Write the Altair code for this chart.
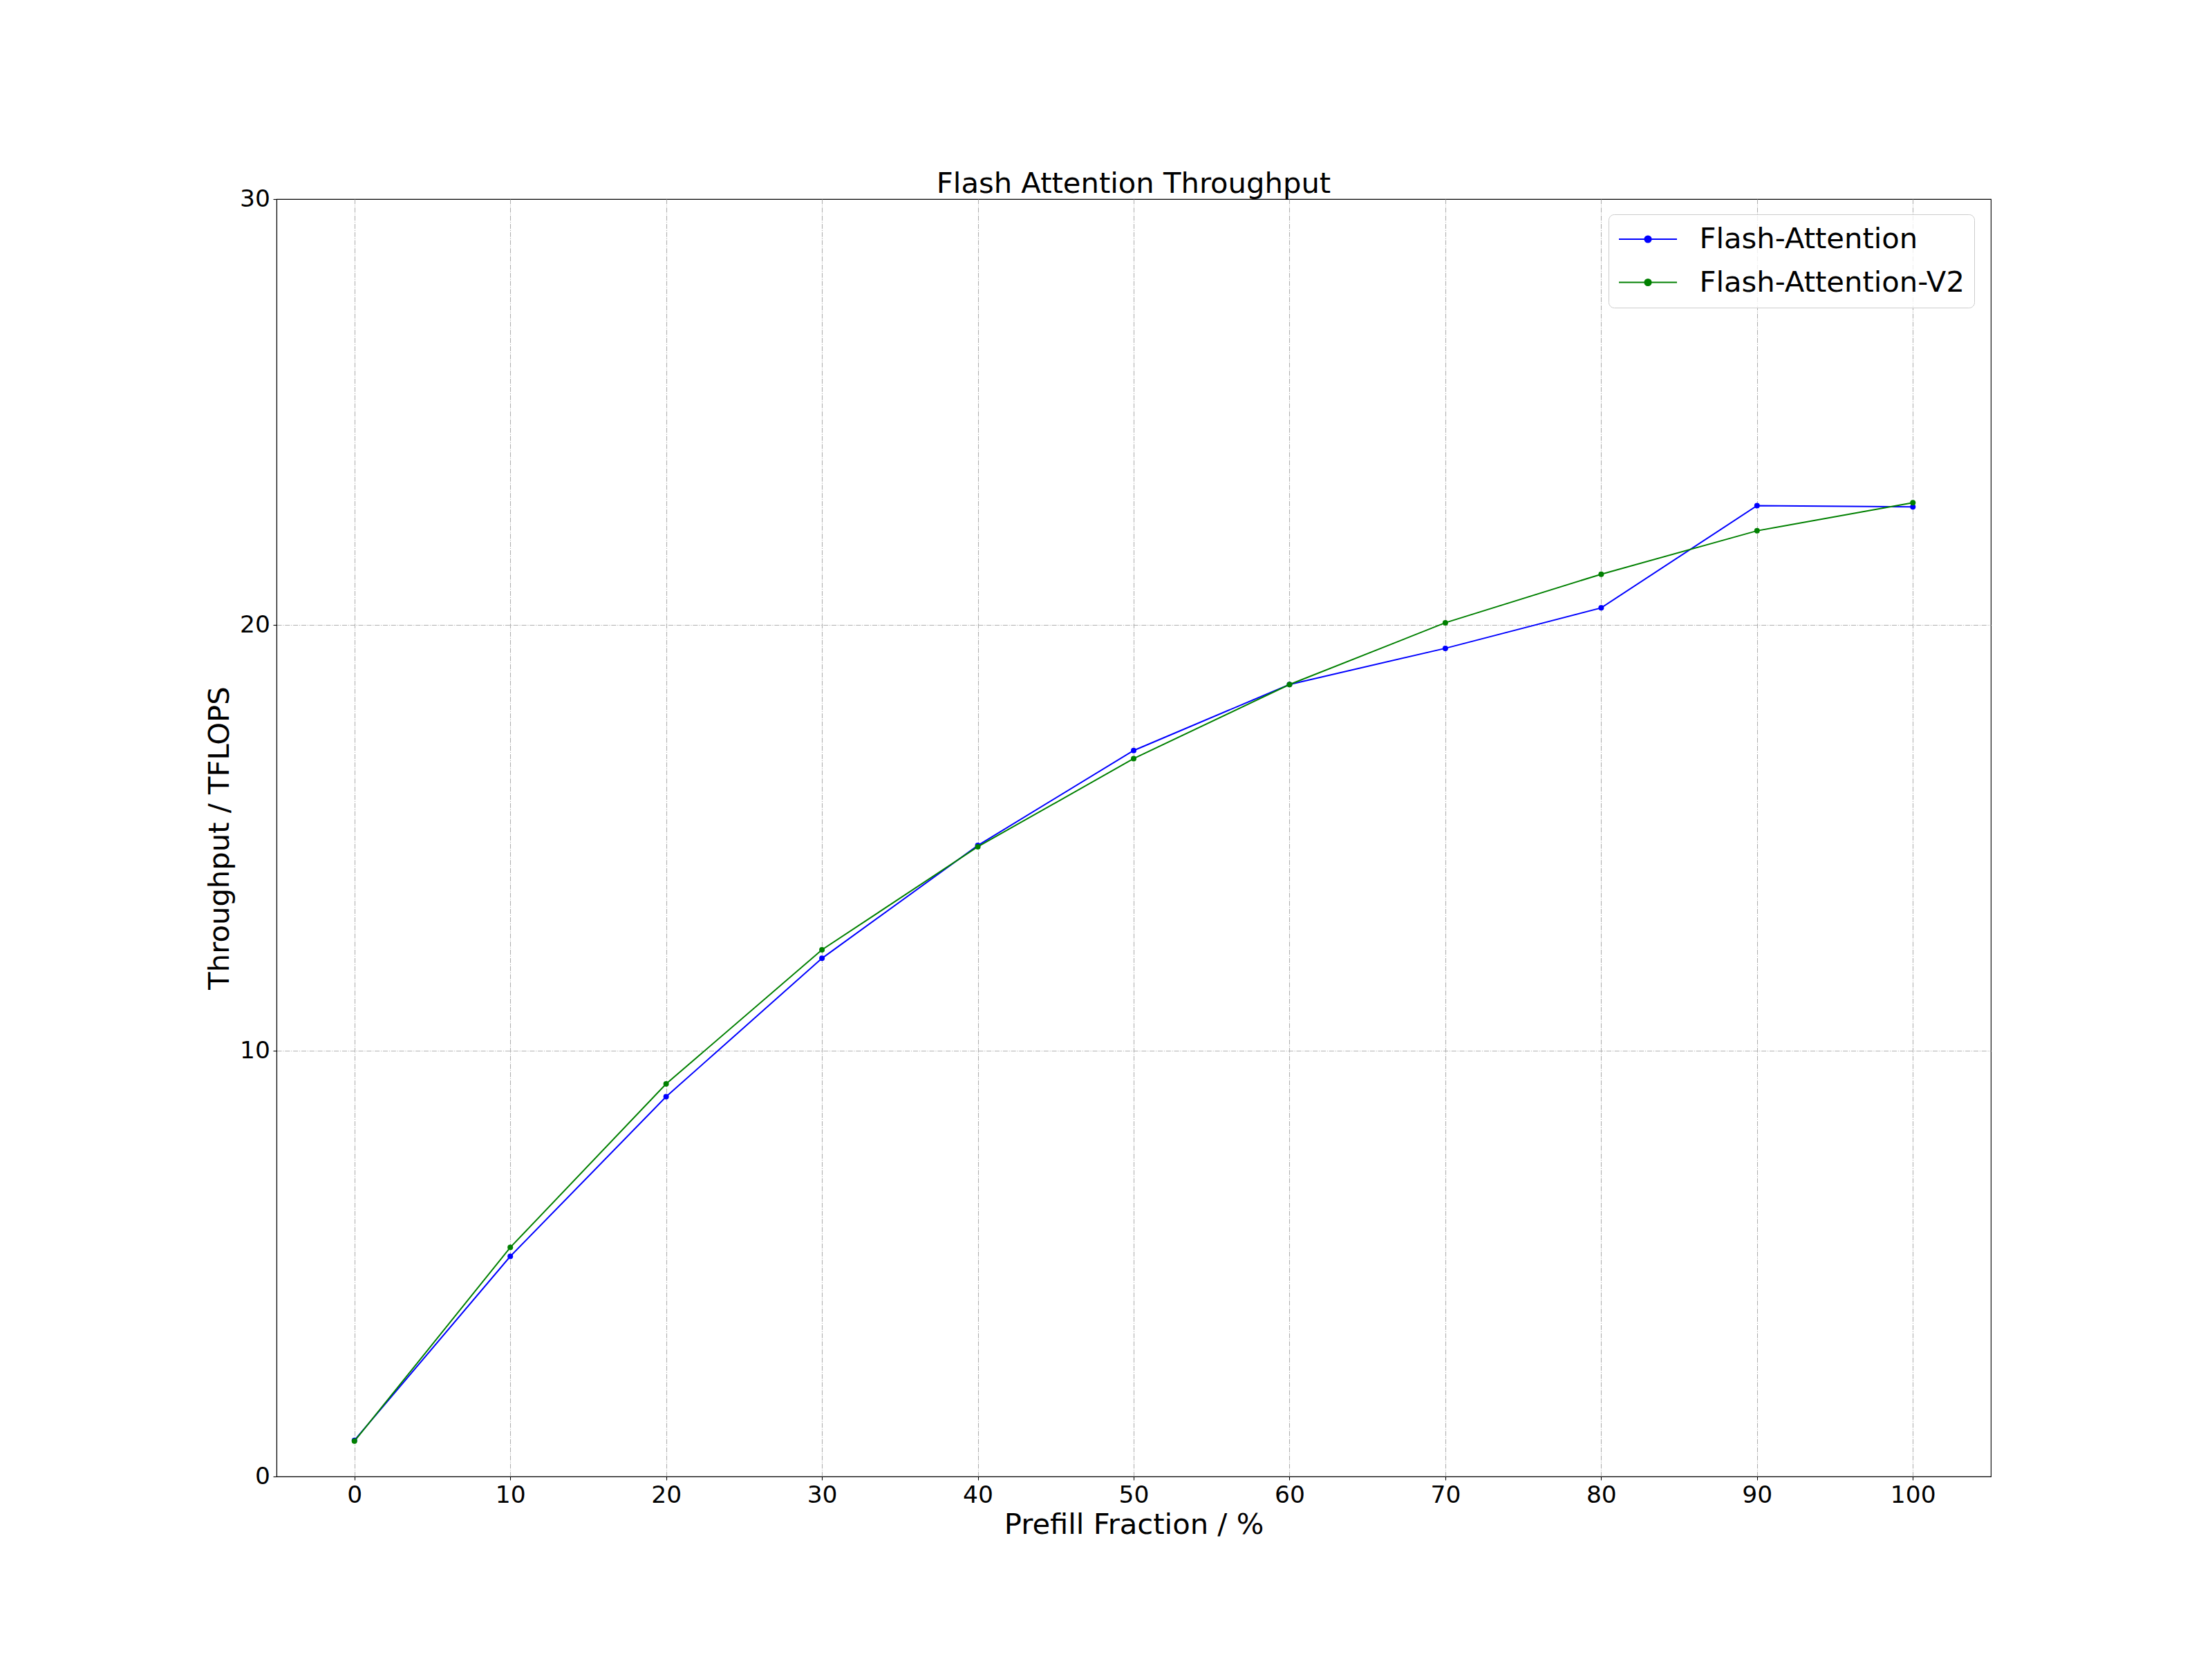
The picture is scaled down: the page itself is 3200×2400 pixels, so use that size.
import altair as alt
import pandas as pd

# ---- data ----
prefill = [0, 10, 20, 30, 40, 50, 60, 70, 80, 90, 100]
flash_attn = [0.85, 5.17, 8.92, 12.17, 14.82, 17.05, 18.60, 19.45, 20.40, 22.80, 22.77]
flash_attn_v2 = [0.83, 5.38, 9.22, 12.37, 14.79, 16.86, 18.60, 20.05, 21.19, 22.21, 22.87]
series_names = ["Flash-Attention", "Flash-Attention-V2"]
series_colors = ["#0000ff", "#008000"]
x_ticks = [0, 10, 20, 30, 40, 50, 60, 70, 80, 90, 100]
y_ticks = [0, 10, 20, 30]

rows = []
for name, vals in zip(series_names, [flash_attn, flash_attn_v2]):
    for xv, yv in zip(prefill, vals):
        rows.append({"prefill": xv, "tflops": yv, "series": name})
df = pd.DataFrame(rows)

FONT = "DejaVu Sans"
W, H = 2480, 1848
BIG = 41.7
TICK = 34.5

# legend glyph: a line with a dot in the middle (unit = 21px)
r = 0.219
legend_path = (f"M-2,0L2,0M-{r},0A{r},{r},0,1,0,{r},0"
               f"A{r},{r},0,1,0,-{r},0Z")

color = alt.Color(
    "series:N",
    scale=alt.Scale(domain=series_names, range=series_colors),
    legend=alt.Legend(
        title=None,
        orient="none",
        legendX=1927,
        legendY=22,
        padding=14,
        labelFont=FONT,
        labelFontSize=BIG,
        labelColor="black",
        labelOffset=52.5,
        symbolType=legend_path,
        symbolSize=1764,
        symbolStrokeWidth=2,
        symbolOffset=21,
        symbolOpacity=1,
        rowPadding=18.5,
        strokeColor="#cccccc",
        fillColor="rgba(255,255,255,0.8)",
        cornerRadius=8,
        labelLimit=0,
    ),
)

x_enc = alt.X(
    "prefill:Q",
    scale=alt.Scale(domain=[-5, 105], nice=False, zero=False),
    axis=alt.Axis(values=x_ticks, title="Prefill Fraction / %",
                  titleY=82.3, titleX=W / 2, titleBaseline="alphabetic",
                  titleAlign="center", labelPadding=5, format="d"),
)
y_enc = alt.Y(
    "tflops:Q",
    scale=alt.Scale(domain=[0, 30], nice=False),
    axis=alt.Axis(values=y_ticks, title="Throughput / TFLOPS",
                  titleX=-70, titleY=H / 2, titleAngle=270,
                  titleBaseline="alphabetic", titleAlign="center",
                  labelPadding=4.5, format="d",
                  gridOpacity=alt.condition("datum.value == 30 || datum.value == 0",
                                            alt.value(0), alt.value(1))),
)

layers = []
for name in series_names:
    base = alt.Chart(df).transform_filter(alt.datum.series == name)
    layers.append(base.mark_line(strokeWidth=2).encode(x=x_enc, y=y_enc, color=color))
    layers.append(base.mark_point(filled=True, size=64, opacity=1).encode(x=x_enc, y=y_enc, color=color))

chart = alt.layer(*layers).properties(
    width=W,
    height=H,
    background="white",
    autosize=alt.AutoSizeParams(type="none"),
    padding={"left": 392, "top": 280, "right": 312, "bottom": 256},
    title=alt.TitleParams(
        "Flash Attention Throughput",
        font=FONT, fontSize=BIG, fontWeight="normal", color="black",
        anchor="middle", baseline="alphabetic", offset=9, dy=60,
    ),
).configure_view(
    stroke="black", strokeWidth=1.1,
).configure_axis(
    labelFont=FONT, labelFontSize=TICK, labelColor="black",
    titleFont=FONT, titleFontSize=BIG, titleFontWeight="normal", titleColor="black",
    domainColor="black", domainWidth=1.1,
    tickColor="black", tickWidth=1.1, tickSize=5,
    grid=True, gridColor="#b0b0b0", gridWidth=1.1, gridDash=[7.1, 1.8, 1.1, 1.8],
    labelFlush=False, labelOverlap=False,
)

chart.save("out.html", embed_options={"renderer": "svg", "actions": False})
